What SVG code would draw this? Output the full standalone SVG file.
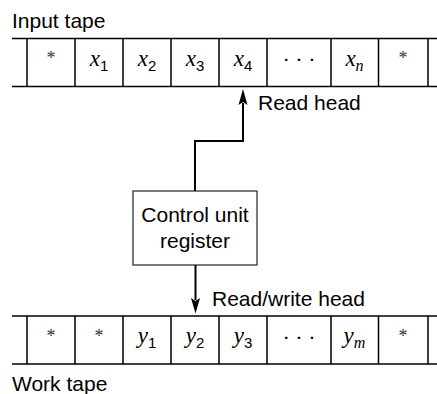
<svg xmlns="http://www.w3.org/2000/svg" width="437" height="394" viewBox="0 0 437 394">
<style>
.lbl{font-family:"Liberation Sans",Arial,sans-serif;font-size:21px;fill:#000}
.tape{stroke:#000;stroke-width:1.5;fill:none}
.m{font-family:"Liberation Serif","Times New Roman",serif;font-size:23px;fill:#000;text-anchor:middle}
.v{font-style:italic}
.s{font-family:"Liberation Sans",Arial,sans-serif;font-size:15px}
.si{font-family:"Liberation Serif","Times New Roman",serif;font-style:italic;font-size:16px}
.ast{font-family:"Liberation Serif","Times New Roman",serif;font-size:18px;fill:#333;text-anchor:middle}
.dots{font-family:"Liberation Serif","Times New Roman",serif;font-size:22px;fill:#000;text-anchor:middle}
.conn{stroke:#000;stroke-width:2;fill:none}
.head{fill:#000;stroke:none}
</style>
<rect width="437" height="394" fill="#fff"/>
<g id="input-tape">
  <path class="tape" d="M12,38.5H437M12,86.5H437M27,38.5V86.5M75,38.5V86.5M123,38.5V86.5M171,38.5V86.5M219,38.5V86.5M267,38.5V86.5M331,38.5V86.5M378.5,38.5V86.5M428,38.5V86.5"/>
  <text class="ast" x="51" y="64">*</text>
  <text class="m" x="99" y="65.5"><tspan class="v">x</tspan><tspan class="s" dy="5">1</tspan></text>
  <text class="m" x="147" y="65.5"><tspan class="v">x</tspan><tspan class="s" dy="5">2</tspan></text>
  <text class="m" x="195" y="65.5"><tspan class="v">x</tspan><tspan class="s" dy="5">3</tspan></text>
  <text class="m" x="243" y="65.5"><tspan class="v">x</tspan><tspan class="s" dy="5">4</tspan></text>
  <text class="dots" x="299" y="67">· · ·</text>
  <text class="m" x="354.5" y="65.5"><tspan class="v">x</tspan><tspan class="si" dy="5">n</tspan></text>
  <text class="ast" x="403" y="64">*</text>
  <text class="lbl" x="12" y="28">Input tape</text>
</g>
<g id="work-tape">
  <path class="tape" d="M12,316H437M12,364H437M27,316V364M75,316V364M123,316V364M171,316V364M219,316V364M267,316V364M331,316V364M378.5,316V364M428,316V364"/>
  <text class="ast" x="51" y="341.5">*</text>
  <text class="ast" x="99" y="341.5">*</text>
  <text class="m" x="147" y="343"><tspan class="v">y</tspan><tspan class="s" dy="5">1</tspan></text>
  <text class="m" x="195" y="343"><tspan class="v">y</tspan><tspan class="s" dy="5">2</tspan></text>
  <text class="m" x="243" y="343"><tspan class="v">y</tspan><tspan class="s" dy="5">3</tspan></text>
  <text class="dots" x="299" y="344.5">· · ·</text>
  <text class="m" x="354.5" y="343"><tspan class="v">y</tspan><tspan class="si" dy="5">m</tspan></text>
  <text class="ast" x="403" y="341.5">*</text>
  <text class="lbl" x="12" y="391">Work tape</text>
</g>
<g id="control-unit">
  <rect x="133" y="191" width="124" height="74" fill="#fff" stroke="#333" stroke-width="1.3"/>
  <text class="lbl" x="195" y="222" text-anchor="middle">Control unit</text>
  <text class="lbl" x="195" y="248" text-anchor="middle">register</text>
</g>
<g id="connectors">
  <path class="conn" d="M195,191V141H243V103"/>
  <path class="head" d="M243,89L247.5,105L243,102L238.5,105Z"/>
  <path class="conn" d="M195.5,265V300"/>
  <path class="head" d="M195.5,313.5L191,298L195.5,301L200,298Z"/>
  <text class="lbl" x="258" y="110">Read head</text>
  <text class="lbl" x="212" y="306">Read/write head</text>
</g>
</svg>
